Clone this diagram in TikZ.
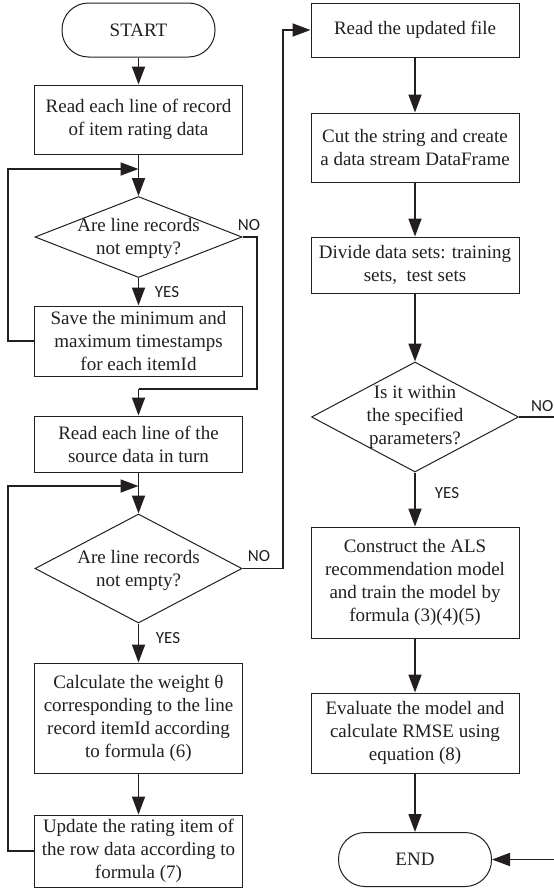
\documentclass[tikz,border=0pt]{standalone}
\usepackage{fontspec}
\setmainfont{Liberation Serif}
\newfontfamily\labelfont{Carlito}
\usetikzlibrary{shapes.geometric,arrows.meta}
\definecolor{ink}{HTML}{231F20}
\begin{document}
\begin{tikzpicture}[x=1pt,y=-1pt,
  every node/.style={text=ink},
  box/.style={draw=ink, line width=1pt, minimum width=208pt, inner sep=0pt, align=center, font=\fontsize{19}{23}\selectfont},
  term/.style={draw=ink, line width=1pt, rounded corners=26.5pt, minimum width=153pt, minimum height=54pt, inner sep=0pt, font=\fontsize{19}{23}\selectfont},
  dia/.style={draw=ink, line width=1pt, shape=diamond, inner sep=0pt, minimum width=207pt},
  dtext/.style={align=center, font=\fontsize{19}{23}\selectfont, inner sep=0pt},
  yn/.style={font=\labelfont\fontsize{17}{17}\selectfont, inner sep=0pt},
  conn/.style={draw=ink, line width=1.8pt, -{Triangle[length=18pt,width=13pt]}},
  plain/.style={draw=ink, line width=1.8pt}
]
\useasboundingbox (0,0) rectangle (554,889);
\fill[white] (0,0) rectangle (554,889);

% left column
\node[term] (start) at (138.5,30) {START};
\node[box, minimum height=69pt] (b1) at (138.5,119.5) {Read each line of record\\of item rating data};
\node[dia, minimum height=81pt] (d1) at (138.5,237) {};
\node[dtext] (d1t) at (138.5,238) {Are line records\\not empty?};
\node[box, minimum height=70pt] (b2) at (138.5,341) {Save the minimum and\\maximum timestamps\\for each itemId};
\node[box, minimum height=56pt] (b3) at (138.5,444) {Read each line of the\\source data in turn};
\node[dia, minimum height=109pt] (d2) at (138.5,568.5) {};
\node[dtext] (d2t) at (138.5,570) {Are line records\\not empty?};
\node[box, minimum height=110pt] (b4) at (138.5,718) {Calculate the weight θ\\corresponding to the line\\record itemId according\\to formula (6)};
\node[box, minimum height=72pt] (b5) at (138.5,851) {Update the rating item of\\the row data according to\\formula (7)};

% right column
\node[box, minimum height=54pt] (r1) at (415,30) {Read the updated file};
\node[box, minimum height=69pt] (r2) at (415,147.5) {Cut the string and create\\a data stream DataFrame};
\node[box, minimum height=56pt] (r3) at (415,265) {Divide data sets: training\\sets, \ test sets};
\node[dia, minimum height=110pt] (d3) at (415,417) {};
\node[dtext] (d3t) at (415,417) {Is it within\\the specified\\parameters?};
\node[box, minimum height=111pt] (r4) at (415,582.5) {Construct the ALS\\recommendation model\\and train the model by\\formula (3)(4)(5)};
\node[box, minimum height=80pt] (r5) at (415,733) {Evaluate the model and\\calculate RMSE using\\equation (8)};
\node[term] (end) at (415,859.5) {END};

% labels
\node[yn] (no1) at (249,225) {NO};
\node[yn] (yes1) at (167,292) {YES};
\node[yn] (no2) at (259,556) {NO};
\node[yn] (yes2) at (168,638) {YES};
\node[yn, anchor=west] (no3) at (531,406) {NO};
\node[yn] (yes3) at (447,493) {YES};

% helper coordinates
\coordinate (m1) at (138.5,169);
\coordinate (m2) at (138.5,486);
\coordinate (m3) at (138.5,389);

% connectors left
\draw[conn] (start) -- (b1);
\draw[conn] (b1) -- (d1);
\draw[conn] (d1) -- (b2);
\draw[conn] (b2.west) -- (8,341) -- (8,169) -- (m1);
\draw[plain] (d1.east) -- (257,237) -- (257,389) -- (m3);
\draw[conn] (m3) -- (b3);
\draw[conn] (b3) -- (d2);
\draw[conn] (d2) -- (b4);
\draw[conn] (b4) -- (b5);
\draw[conn] (b5.west) -- (8,851) -- (8,486) -- (m2);
\draw[conn] (d2.east) -- (283,568.5) -- (283,30) -- (r1.west);

% connectors right
\draw[conn] (r1) -- (r2);
\draw[conn] (r2) -- (r3);
\draw[conn] (r3) -- (d3);
\draw[conn] (d3) -- (r4);
\draw[conn] (r4) -- (r5);
\draw[conn] (r5) -- (end);
\draw[conn] (d3.east) -- (557,417) -- (557,859.5) -- (end.east);
\end{tikzpicture}
\end{document}
